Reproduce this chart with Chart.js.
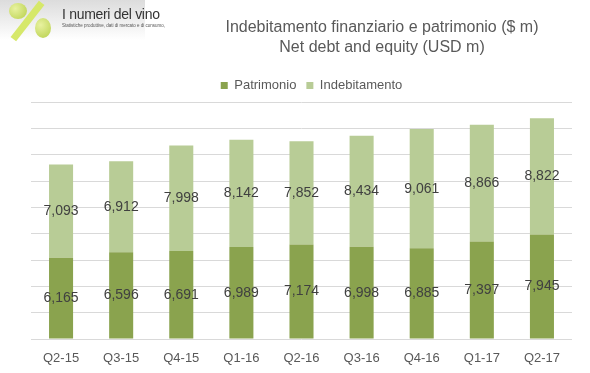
<!DOCTYPE html>
<html lang="it">
<head>
    <meta charset="UTF-8">
    <title>Indebitamento finanziario e patrimonio</title>
    <script src="https://cdn.jsdelivr.net/npm/chart.js"></script>
    <style>
        body {
            margin: 0;
            font-family: "Liberation Sans", Arial, sans-serif;
            background: #fff;
        }
        .wrap {
            position: relative;
            width: 590px;
            height: 373px;
        }
        .logo {
            position: absolute;
            left: 0;
            top: 0;
            width: 145px;
            height: 40px;
            background: linear-gradient(to bottom, #dcdcdc, #ffffff);
        }
        .logo .bar {
            position: absolute;
            left: 24px;
            top: -2px;
            width: 7px;
            height: 46px;
            background: #d6e86a;
            transform: rotate(38deg);
        }
        .logo .grape {
            position: absolute;
            border-radius: 50%;
            background: radial-gradient(circle at 35% 35%, #e8f2a0, #b7cf4a);
        }
        .logo .name {
            position: absolute;
            left: 62px;
            top: 6px;
            font-size: 14px;
            color: #333;
            letter-spacing: -0.3px;
            white-space: nowrap;
        }
        .logo .sub {
            position: absolute;
            left: 62px;
            top: 23px;
            font-size: 4.5px;
            color: #555;
            white-space: nowrap;
        }
        .title {
            position: absolute;
            left: 182px;
            top: 17px;
            width: 400px;
            text-align: center;
            font-size: 16px;
            line-height: 20px;
            color: #595959;
        }
        canvas {
            position: absolute;
            left: 0;
            top: 0;
        }
    </style>
</head>
<body>
<div class="wrap">
    <canvas id="chart" width="590" height="373"></canvas>
    <div class="logo">
        <div class="bar"></div>
        <div class="grape" style="left:9px;top:3px;width:18px;height:16px;"></div>
        <div class="grape" style="left:35px;top:18px;width:16px;height:20px;"></div>
        <div class="name">I numeri del vino</div>
        <div class="sub">Statistiche produttive, dati di mercato e di consumo,</div>
    </div>
    <div class="title">Indebitamento finanziario e patrimonio ($ m)<br>Net debt and equity (USD m)</div>
</div>

<script>
    const quarters = ['Q2-15', 'Q3-15', 'Q4-15', 'Q1-16', 'Q2-16', 'Q3-16', 'Q4-16', 'Q1-17', 'Q2-17'];
    const patrimonio = [6165, 6596, 6691, 6989, 7174, 6998, 6885, 7397, 7945];
    const indebitamento = [7093, 6912, 7998, 8142, 7852, 8434, 9061, 8866, 8822];

    // values written in the middle of each segment
    const segmentLabels = {
        id: 'segmentLabels',
        afterLayout(chart) {
            // legend sits a little right of centre in the original
            chart.legend.left += 10;
            chart.legend.right += 10;
        },
        afterDatasetsDraw(chart) {
            const ctx = chart.ctx;
            ctx.save();
            ctx.font = '14px "Liberation Sans", Arial, sans-serif';
            ctx.fillStyle = '#404040';
            ctx.textAlign = 'center';
            ctx.textBaseline = 'middle';
            chart.data.datasets.forEach((ds, i) => {
                chart.getDatasetMeta(i).data.forEach((bar, j) => {
                    const p = bar.getProps(['x', 'y', 'base'], true);
                    ctx.fillText(ds.data[j].toLocaleString('en-US'), p.x, (p.y + p.base) / 2);
                });
            });
            ctx.restore();
        }
    };

    new Chart(document.getElementById('chart').getContext('2d'), {
        type: 'bar',
        data: {
            labels: quarters,
            datasets: [
                {
                    label: 'Patrimonio',
                    data: patrimonio,
                    backgroundColor: '#8aa34e',
                    barPercentage: 0.4,
                    categoryPercentage: 1
                },
                {
                    label: 'Indebitamento',
                    data: indebitamento,
                    backgroundColor: '#b8cc96',
                    barPercentage: 0.4,
                    categoryPercentage: 1
                }
            ]
        },
        options: {
            responsive: false,
            animation: false,
            layout: {
                padding: { left: 31, right: 18, top: 69, bottom: 8 }
            },
            plugins: {
                legend: {
                    labels: {
                        boxWidth: 7,
                        boxHeight: 7,
                        padding: 10,
                        color: '#595959',
                        font: { size: 13, family: '"Liberation Sans", Arial, sans-serif' }
                    }
                },
                tooltip: { enabled: false }
            },
            scales: {
                x: {
                    stacked: true,
                    afterFit: s => { s.height = 26; },
                    grid: { display: false },
                    border: { display: false },
                    ticks: {
                        color: '#595959',
                        padding: 4,
                        maxRotation: 0,
                        font: { size: 13, family: '"Liberation Sans", Arial, sans-serif' }
                    }
                },
                y: {
                    stacked: true,
                    min: 0,
                    max: 18000,
                    afterFit: s => { s.width = 0; },
                    grid: { color: '#d9d9d9', drawTicks: false },
                    border: { display: false },
                    ticks: { display: false, stepSize: 2000 }
                }
            }
        },
        plugins: [segmentLabels]
    });
</script>
</body>
</html>
